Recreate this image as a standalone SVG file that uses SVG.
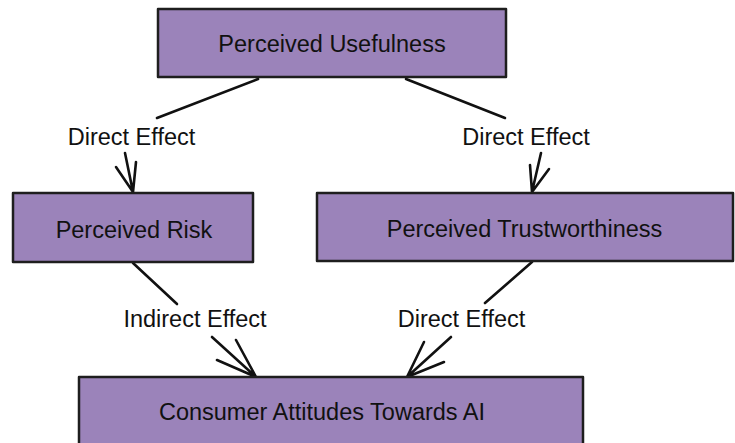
<svg xmlns="http://www.w3.org/2000/svg" width="735" height="443" viewBox="0 0 735 443">
<style>
.box{fill:#9b83ba;stroke:#1e1e1e;stroke-width:2.5;stroke-linejoin:round}
.t{font-family:"Liberation Sans",Arial,sans-serif;font-size:23.5px;fill:#111;text-anchor:middle}
.c{fill:none;stroke:#111;stroke-width:2.6;stroke-linecap:round}
</style>
<rect width="735" height="443" fill="#fff"/>
<g id="connectors">
<path class="c" d="M258 79 L157 118" stroke-width="3.2"/>
<path class="c" d="M125 153 L133 192 M116 167 L133 192 M136 162 L133 192"/>
<path class="c" d="M406 79 L505 118" stroke-width="3.2"/>
<path class="c" d="M541 153 L532 192 M530 165 L532 192 M549 169 L532 192"/>
<path class="c" d="M133 263 L177 304"/>
<path class="c" d="M212 337 L256 377 M236 340 L256 377 M217 360 L256 377"/>
<path class="c" d="M532 262 L485 303"/>
<path class="c" d="M451 337 L407 377 M424 342 L407 377 M444 362 L407 377"/>
<text class="t" x="131.5" y="145">Direct Effect</text>
<text class="t" x="526" y="145">Direct Effect</text>
<text class="t" x="195" y="327">Indirect Effect</text>
<text class="t" x="461.5" y="327">Direct Effect</text>
</g>
<g id="usefulness">
<rect class="box" x="158" y="9" width="348" height="68"/>
<text class="t" x="332" y="52">Perceived Usefulness</text>
</g>
<g id="risk">
<rect class="box" x="13" y="193" width="240" height="69"/>
<text class="t" x="134" y="238">Perceived Risk</text>
</g>
<g id="trust">
<rect class="box" x="317" y="193" width="416" height="68"/>
<text class="t" x="524.5" y="237">Perceived Trustworthiness</text>
</g>
<g id="attitudes">
<rect class="box" x="79" y="377" width="504" height="80"/>
<text class="t" x="322" y="420">Consumer Attitudes Towards AI</text>
</g>
</svg>
